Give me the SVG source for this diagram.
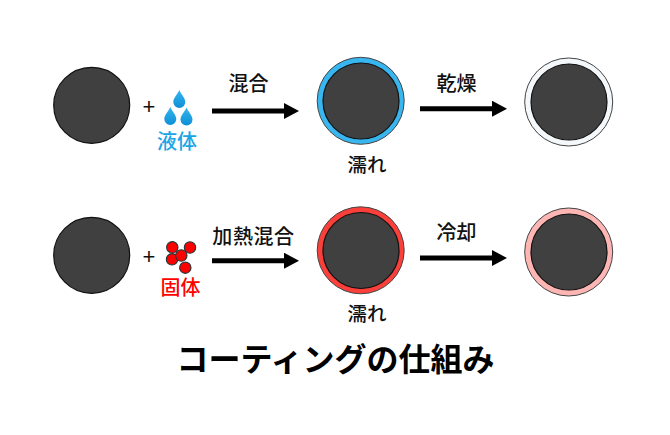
<svg xmlns="http://www.w3.org/2000/svg" width="670" height="435" viewBox="0 0 670 435">
<defs>
<linearGradient id="dropFill" x1="0" y1="0" x2="0" y2="1"><stop offset="0" stop-color="#35b6ee"/><stop offset="1" stop-color="#0d8fd6"/></linearGradient>
<path id="drop" d="M0,-9.5C1.5,-5.4 6,-1.8 6,2.5A6,6 0 0 1 -6,2.5C-6,-1.8 -1.5,-5.4 0,-9.5Z" fill="url(#dropFill)"/>
<marker id="head" markerUnits="userSpaceOnUse" markerWidth="15" markerHeight="16" refX="0" refY="8" orient="auto"><path d="M0,0L15,8L0,16Z" fill="#000"/></marker>
</defs>
<style>
text{font-family:"Noto Sans CJK JP","Liberation Sans",sans-serif;text-anchor:middle;fill:#111}
.l{font-size:20px;font-weight:500}
.w{font-size:19.5px;font-weight:500}
.core{fill:#404040;stroke:#111;stroke-width:1.2}
.ring{stroke:#444;stroke-width:1}
.p{fill:#f00;stroke:#20383c;stroke-width:1.1}
.a{stroke:#000;stroke-width:5;fill:none;marker-end:url(#head)}
.plus{font-family:"Liberation Sans",sans-serif;font-size:22px;font-weight:400}
</style>
<rect width="670" height="435" fill="#fff"/>
<g id="connectors">
<path class="a" d="M212,111H284"/>
<path class="a" d="M420,108.7H492"/>
<path class="a" d="M212,260.7H284"/>
<path class="a" d="M420,258H492"/>
</g>
<g id="particle-a"><circle class="core" cx="91.7" cy="105.3" r="38"/></g>
<g id="plus-a"><text class="plus" x="149" y="113.5">+</text></g>
<g id="liquid">
<use href="#drop" x="179.3" y="99.5"/><use href="#drop" x="170.3" y="116.5"/><use href="#drop" x="186.5" y="117"/>
<text x="177" y="149" style="font-size:20px;font-weight:500;fill:#1aa5e6">液体</text>
</g>
<g id="label-mix"><text class="l" x="248.5" y="91">混合</text></g>
<g id="wet-liquid">
<circle class="ring" cx="360.7" cy="100.8" r="43.5" fill="#38b6f0"/><circle class="core" cx="361" cy="101" r="38"/>
<text class="w" x="367" y="172">濡れ</text>
</g>
<g id="label-dry"><text class="l" x="456.5" y="90.5">乾燥</text></g>
<g id="dried">
<circle class="ring" cx="568.7" cy="102" r="44" fill="#f4f8fa"/><circle class="core" cx="569" cy="102" r="38"/>
</g>
<g id="particle-b"><circle class="core" cx="91.7" cy="255.3" r="38"/></g>
<g id="plus-b"><text class="plus" x="149" y="263.5">+</text></g>
<g id="solid">
<circle class="p" cx="172.3" cy="247.3" r="5.7"/><circle class="p" cx="190" cy="247.5" r="5.7"/><circle class="p" cx="172" cy="259.3" r="5.7"/><circle class="p" cx="181.3" cy="255.5" r="5.7"/><circle class="p" cx="185.3" cy="267.7" r="5.7"/>
<text x="180.5" y="295" style="font-size:20px;font-weight:500;fill:#f00">固体</text>
</g>
<g id="label-heat"><text class="l" x="253.5" y="244" style="letter-spacing:.6px">加熱混合</text></g>
<g id="wet-solid">
<circle class="ring" cx="360.7" cy="250.3" r="43.5" fill="#fb3f3a"/><circle class="core" cx="361" cy="250.5" r="38"/>
<text class="w" x="367" y="321">濡れ</text>
</g>
<g id="label-cool"><text class="l" x="456.5" y="240">冷却</text></g>
<g id="cooled">
<circle class="ring" cx="568.7" cy="252" r="44" fill="#fdb6b4"/><circle class="core" cx="569" cy="252" r="38"/>
</g>
<g id="title"><text x="335.5" y="370.5" style="font-size:32px;font-weight:700;fill:#000">コーティングの仕組み</text></g>
</svg>
